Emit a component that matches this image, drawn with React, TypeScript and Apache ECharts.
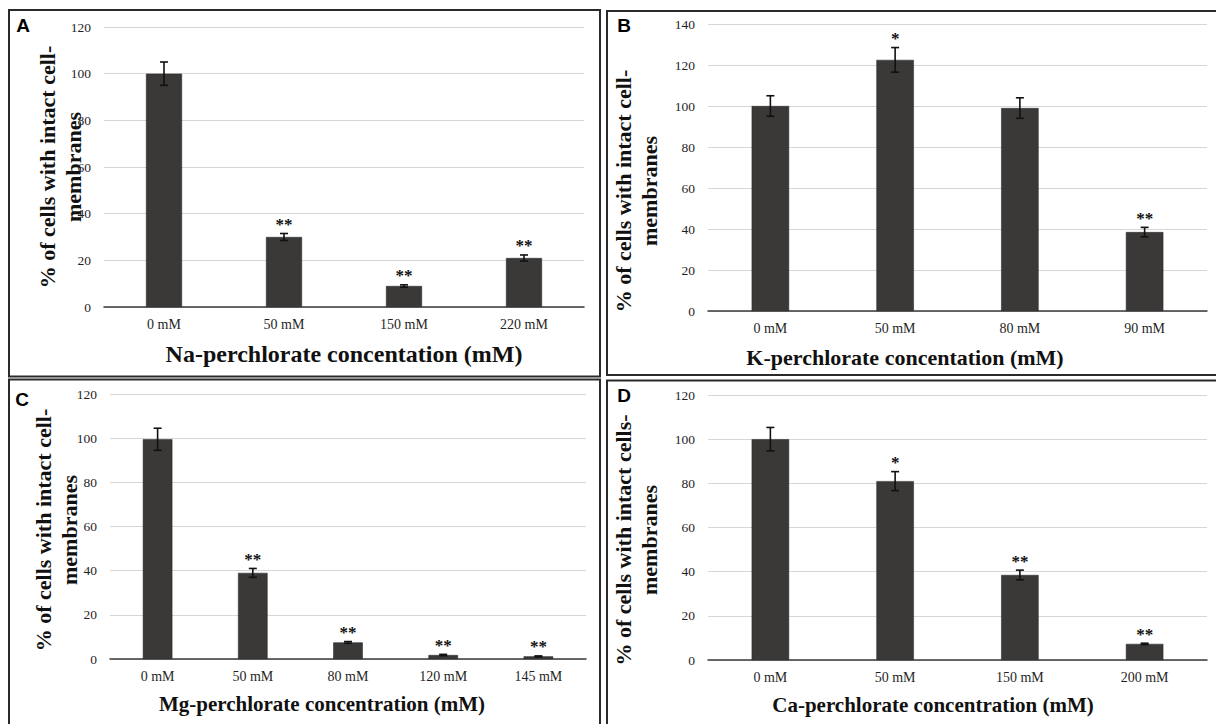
import React, { useEffect, useRef } from "react";
import * as echarts from "echarts";

const catsA = ["0 mM", "50 mM", "150 mM", "220 mM"];
const valsA = [100, 30, 9, 21];
const errA = [5, 1.5, 0.5, 1.3];
const sigA = ["", "**", "**", "**"];

const catsB = ["0 mM", "50 mM", "80 mM", "90 mM"];
const valsB = [100, 122.5, 99, 38.5];
const errB = [5, 6, 5, 2.3];
const sigB = ["", "*", "", "**"];

const catsC = ["0 mM", "50 mM", "80 mM", "120 mM", "145 mM"];
const valsC = [99.5, 39, 7.5, 1.8, 1.2];
const errC = [5, 2, 0.4, 0.3, 0.2];
const sigC = ["", "**", "**", "**", "**"];

const catsD = ["0 mM", "50 mM", "150 mM", "200 mM"];
const valsD = [100, 81, 38.5, 7.3];
const errD = [5.3, 4.3, 2.2, 0.3];
const sigD = ["", "*", "**", "**"];

const yMaxes = [120, 140, 120, 120];
const yInterval = 20;

const xTitles = [
  "Na-perchlorate concentation (mM)",
  "K-perchlorate concentation (mM)",
  "Mg-perchlorate concentration (mM)",
  "Ca-perchlorate concentration (mM)",
];
const yTitles = [
  "% of cells with intact cell-\nmembranes",
  "% of cells with intact cell-\nmembranes",
  "% of cells with intact cell-\nmembranes",
  "% of cells with intact cells-\nmembranes",
];
const panelLetters = ["A", "B", "C", "D"];

const SERIF = '"Liberation Serif", "Times New Roman", serif';
const SANS = '"Liberation Sans", Arial, sans-serif';
const BAR_COLOR = "#3b3838";

export default function App() {
  const ref = useRef<HTMLDivElement>(null);

  useEffect(() => {
    document.body.style.margin = "0";
    if (!ref.current) return;
    const chart = echarts.init(ref.current, undefined, { renderer: "svg" });

    const panels = [
      { cats: catsA, vals: valsA, errs: errA, sig: sigA, grid: { left: 104, top: 27, width: 480, height: 280 }, barW: "30%" },
      { cats: catsB, vals: valsB, errs: errB, sig: sigB, grid: { left: 708, top: 24, width: 499, height: 287 }, barW: "30%" },
      { cats: catsC, vals: valsC, errs: errC, sig: sigC, grid: { left: 110, top: 394, width: 476, height: 265 }, barW: "31%" },
      { cats: catsD, vals: valsD, errs: errD, sig: sigD, grid: { left: 708, top: 395, width: 499, height: 265 }, barW: "30%" },
    ];

    const grids = panels.map((p) => ({ ...p.grid, containLabel: false }));
    const xAxes = panels.map((p, i) => ({
      type: "category",
      gridIndex: i,
      data: p.cats,
      axisLine: { show: true, lineStyle: { color: "#3a3a3a", width: 1.5 } },
      axisTick: { show: false },
      axisLabel: { fontFamily: SERIF, fontSize: 14, color: "#1f1f1f", margin: 10 },
      splitLine: { show: false },
    }));
    const yAxes = panels.map((p, i) => ({
      type: "value",
      gridIndex: i,
      min: 0,
      max: yMaxes[i],
      interval: yInterval,
      axisLine: { show: false },
      axisTick: { show: false },
      axisLabel: { fontFamily: SERIF, fontSize: 13.5, color: "#1f1f1f", margin: 13 },
      splitLine: { show: true, lineStyle: { color: "#d6d6d6", width: 1 } },
    }));

    const series: any[] = [];
    panels.forEach((p, i) => {
      series.push({
        type: "bar",
        xAxisIndex: i,
        yAxisIndex: i,
        data: p.vals,
        barWidth: p.barW,
        itemStyle: { color: BAR_COLOR, borderColor: "#222", borderWidth: 0.5 },
        silent: true,
      });
      const sig = p.sig;
      series.push({
        type: "custom",
        xAxisIndex: i,
        yAxisIndex: i,
        data: p.vals.map((v, k) => [k, v, p.errs[k]]),
        encode: { x: 0, y: 1 },
        z: 5,
        silent: true,
        renderItem: (params: any, api: any) => {
          const k = api.value(0);
          const m = api.value(1);
          const e = api.value(2);
          const top = api.coord([k, m + e]);
          const bot = api.coord([k, m - e]);
          const cap = 4;
          const ls = { stroke: "#111", lineWidth: 1.6 };
          const children: any[] = [
            { type: "line", shape: { x1: top[0], y1: top[1], x2: bot[0], y2: bot[1] }, style: ls },
            { type: "line", shape: { x1: top[0] - cap, y1: top[1], x2: top[0] + cap, y2: top[1] }, style: ls },
            { type: "line", shape: { x1: bot[0] - cap, y1: bot[1], x2: bot[0] + cap, y2: bot[1] }, style: ls },
          ];
          const s = sig[params.dataIndex];
          if (s) {
            children.push({
              type: "text",
              style: {
                text: s,
                x: top[0],
                y: top[1] - 9,
                align: "center",
                verticalAlign: "middle",
                font: `bold 17px ${SERIF}`,
                fill: "#111",
              },
            });
          }
          return { type: "group", children };
        },
      });
    });

    const borders = [
      { x: 9, y: 10, width: 591, height: 366.5 },
      { x: 607, y: 11, width: 615, height: 364 },
      { x: 9, y: 379.5, width: 591, height: 350 },
      { x: 607, y: 380.5, width: 615, height: 350 },
    ];
    const letterPos = [
      [23, 25],
      [624, 25],
      [22, 399],
      [624, 395],
    ];
    const xTitlePos = [
      [344, 354],
      [905, 357],
      [322, 704],
      [933, 705],
    ];
    const xTitleSize = [24, 22, 21, 21];
    const yTitlePos = [
      [60, 167],
      [636, 191],
      [56, 530],
      [636, 540],
    ];

    const graphic: any[] = [];
    borders.forEach((b) => {
      graphic.push({
        type: "rect",
        shape: b,
        style: { fill: "none", stroke: "#2a2a2a", lineWidth: 2 },
        silent: true,
      });
    });
    panelLetters.forEach((t, i) => {
      graphic.push({
        type: "text",
        x: letterPos[i][0],
        y: letterPos[i][1],
        style: { text: t, font: `bold 19px ${SANS}`, fill: "#000", align: "center", verticalAlign: "middle" },
      });
    });
    xTitles.forEach((t, i) => {
      graphic.push({
        type: "text",
        x: xTitlePos[i][0],
        y: xTitlePos[i][1],
        style: { text: t, font: `bold ${xTitleSize[i]}px ${SERIF}`, fill: "#111", align: "center", verticalAlign: "middle" },
      });
    });
    yTitles.forEach((t, i) => {
      graphic.push({
        type: "text",
        x: yTitlePos[i][0],
        y: yTitlePos[i][1],
        rotation: Math.PI / 2,
        style: {
          text: t,
          font: `bold 22px ${SERIF}`,
          fill: "#111",
          align: "center",
          verticalAlign: "middle",
          lineHeight: 26,
        },
      });
    });

    chart.setOption({
      animation: false,
      backgroundColor: "#ffffff",
      grid: grids,
      xAxis: xAxes,
      yAxis: yAxes,
      series,
      graphic,
    });

    return () => chart.dispose();
  }, []);

  return <div ref={ref} style={{ width: 1216, height: 724 }} />;
}
